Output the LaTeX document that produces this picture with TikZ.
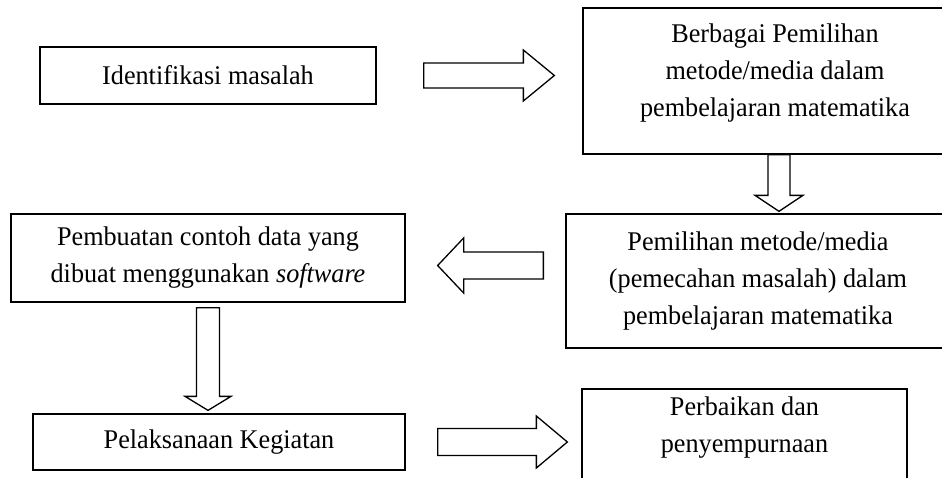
\documentclass[tikz,border=0pt]{standalone}
\usepackage{fontspec}
\setmainfont{Liberation Serif}[FakeStretch=0.97]
\usetikzlibrary{calc,positioning}

\begin{document}
\begin{tikzpicture}[x=1pt,y=-1pt,
  box/.style={draw,line width=1.3pt,inner sep=0pt,align=center,font=\fontsize{27}{37}\selectfont},
  lbl/.style={align=center,font=\fontsize{27}{37}\selectfont},
  gaps/.code 2 args={\def\blkgapa{#1}\def\blkgapb{#2}},
  headlen/.code={\def\blkhead{#1}},
  blkw/.code 2 args={\def\blkshaft{#1}\def\blkhw{#2}},
  gaps={0pt}{0pt}, headlen=30pt, blkw={12.5pt}{25.5pt},
  blk/.style={draw,line width=1.3pt,line join=miter,to path={
    let \p1=($(\tikztostart)!\blkgapa!(\tikztotarget)$),
        \p2=($(\tikztotarget)!\blkgapb!(\tikztostart)$),
        \p3=($(\p2)!\blkhead!(\p1)$) in
    ($(\p1)!\blkshaft!90:(\p2)$) -- ($(\p3)!\blkshaft!90:(\p2)$) -- ($(\p3)!\blkhw!90:(\p2)$)
    -- (\p2) -- ($(\p3)!\blkhw!-90:(\p2)$) -- ($(\p3)!\blkshaft!-90:(\p2)$)
    -- ($(\p1)!\blkshaft!-90:(\p2)$) -- cycle}}]
  \useasboundingbox (0,0) rectangle (942,477);
  % boxes
  \node[box,minimum width=336pt,minimum height=57pt] (idf) at (208,75.5) {Identifikasi masalah};
  \node[box,minimum width=392pt,minimum height=146pt,
    label={[lbl,yshift=8pt,xshift=-4pt]center:{Berbagai Pemilihan\\metode/media dalam\\pembelajaran matematika}}] (pil1) at (779,81) {};
  \node[box,minimum width=384pt,minimum height=134pt] (pil2) at (758,281) {Pemilihan metode/media\\(pemecahan masalah) dalam\\pembelajaran matematika};
  \node[box,minimum width=394pt,minimum height=88pt] (pbt) at (208,258) {Pembuatan contoh data yang\\dibuat menggunakan \textit{software}};
  \node[box,minimum width=372pt,minimum height=56pt] (plk) at (219,442) {Pelaksanaan Kegiatan};
  \node[box,minimum width=325pt,minimum height=102pt,
    label={[lbl,yshift=12pt]center:{Perbaikan dan\\penyempurnaan}}] (prb) at (744.5,440) {};
  \coordinate (a3) at ([yshift=-7.5pt]pbt.east);
  % hollow arrows
  \draw[blk,gaps={47pt}{28pt},headlen=31pt] (idf.east) to (idf.east -| pil1.west);
  \draw[blk,gaps={0pt}{2pt},headlen=16pt,blkw={11pt}{24pt}] (pil1.south) to (pil1.south |- pil2.north);
  \draw[blk,gaps={22pt}{32pt},headlen=26pt,blkw={13.5pt}{27.5pt}] (a3 -| pil2.west) to (a3);
  \draw[blk,gaps={5pt}{3pt},headlen=14pt,blkw={11.5pt}{23pt}] (pbt.south) to (pbt.south |- plk.north);
  \draw[blk,gaps={32pt}{14pt},headlen=31pt,blkw={13.5pt}{26pt}] (plk.east) to (plk.east -| prb.west);
\end{tikzpicture}
\end{document}
